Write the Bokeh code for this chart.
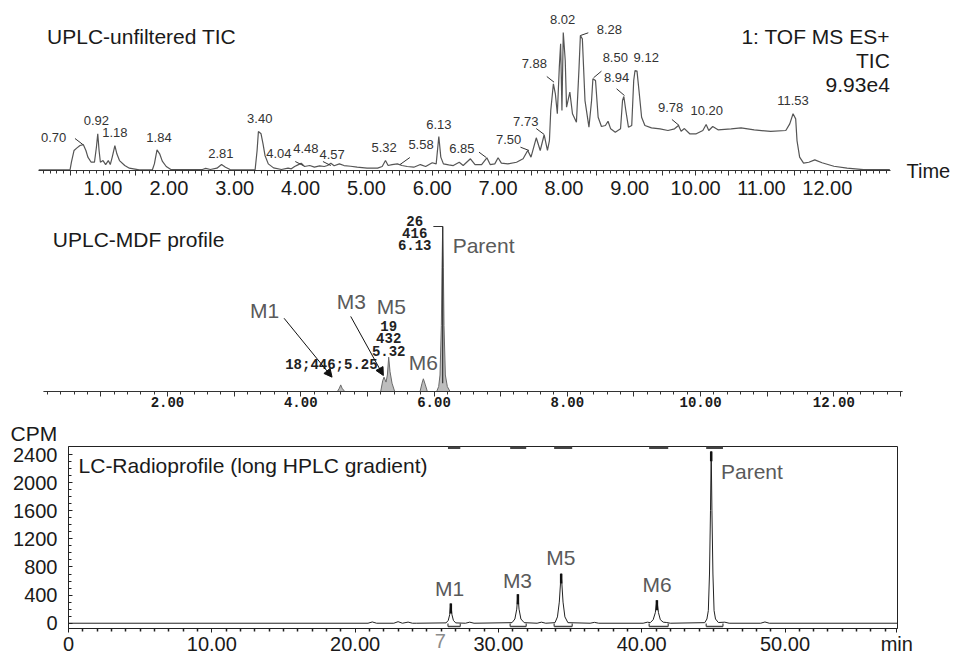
from bokeh.plotting import figure
from bokeh.layouts import column, row
from bokeh.models import (Range1d, FixedTicker, Label, LabelSet, ColumnDataSource,
                          Arrow, NormalHead, CustomJSTickFormatter, LinearAxis, Title)
from bokeh.core.properties import value
from bokeh.embed import file_html
from bokeh.resources import INLINE

SANS = "Liberation Sans"
MONO = "Liberation Mono"
DARK = "#1a1a1a"
GREY = "#5a5a5a"

# ---------------- data: panel 1 (UPLC unfiltered TIC) ----------------
tic_time = [0.02, 0.50, 0.52, 0.56, 0.60, 0.65, 0.70, 0.74, 0.77, 0.82, 0.87, 0.90, 0.92, 0.94,
            0.96, 1.00, 1.04, 1.08, 1.11, 1.14, 1.18, 1.21, 1.25, 1.33, 1.40, 1.55, 1.75, 1.78,
            1.82, 1.86, 1.90, 1.96, 2.03, 2.51, 2.56, 2.63, 2.73, 2.80, 2.86, 2.93, 3.31, 3.34,
            3.36, 3.40, 3.43, 3.46, 3.51, 3.59, 3.71, 3.81, 3.86, 3.91, 3.96, 4.01, 4.06, 4.14,
            4.21, 4.29, 4.36, 4.41, 4.46, 4.51, 4.59, 4.66, 4.76, 4.86, 5.01, 5.17, 5.24, 5.29,
            5.33, 5.39, 5.47, 5.54, 5.62, 5.72, 5.82, 5.90, 6.00, 6.06, 6.10, 6.13, 6.17, 6.25,
            6.32, 6.41, 6.47, 6.58, 6.65, 6.75, 6.83, 6.88, 6.95, 7.00, 7.05, 7.15, 7.28, 7.38,
            7.45, 7.50, 7.58, 7.64, 7.70, 7.75, 7.78, 7.80, 7.84, 7.87, 7.90, 7.93, 7.95, 7.97,
            7.99, 8.02, 8.04, 8.09, 8.13, 8.19, 8.23, 8.25, 8.28, 8.32, 8.38, 8.42, 8.44, 8.48,
            8.52, 8.57, 8.63, 8.67, 8.71, 8.78, 8.86, 8.89, 8.91, 8.94, 8.98, 9.03, 9.06, 9.08,
            9.11, 9.14, 9.18, 9.23, 9.33, 9.46, 9.58, 9.68, 9.74, 9.78, 9.83, 9.91, 10.01, 10.11,
            10.16, 10.20, 10.26, 10.34, 10.54, 10.69, 10.89, 11.14, 11.37, 11.43, 11.48, 11.52,
            11.54, 11.58, 11.64, 11.72, 11.81, 11.92, 12.10, 12.30, 12.55, 12.95]
tic_intensity = [0.5, 0.7, 6.0, 14.5, 16.2, 18.1, 18.8, 14.5, 9.7, 6.0, 6.0, 17.0, 26.6, 14.5,
                 6.0, 7.2, 4.3, 7.2, 4.3, 9.7, 18.1, 12.1, 7.2, 3.6, 1.7, 0.5, 0.5, 4.8,
                 15.0, 12.1, 6.8, 2.9, 0.7, 0.7, 1.5, 0.7, 1.7, 4.3, 2.4, 0.7, 0.5, 14.5,
                 28.3, 26.6, 19.3, 10.9, 4.8, 1.9, 0.7, 1.7, 1.2, 2.9, 4.1, 5.3, 2.9, 3.6,
                 2.4, 3.4, 2.9, 3.6, 5.3, 3.4, 4.8, 3.6, 3.1, 2.4, 1.7, 1.7, 2.9, 7.2,
                 3.6, 4.3, 4.8, 3.6, 2.9, 2.4, 4.3, 2.9, 5.6, 4.8, 24.6, 9.7, 4.8, 4.1,
                 3.6, 6.0, 3.6, 8.5, 4.3, 4.3, 9.2, 4.3, 4.8, 9.2, 5.3, 4.8, 6.0, 8.5,
                 14.5, 9.7, 23.7, 14.5, 25.9, 14.5, 21.7, 43.5, 62.8, 55.6, 41.1, 74.9, 91.8, 43.5,
                 100.0, 79.7, 45.9, 56.8, 41.1, 35.0, 74.9, 97.8, 95.4, 50.7, 31.4, 50.7, 66.4, 65.2,
                 38.6, 31.9, 32.6, 35.7, 30.2, 27.8, 30.2, 50.7, 53.6, 43.5, 31.4, 32.6, 65.2, 72.5,
                 72.0, 58.0, 38.6, 32.6, 30.9, 30.2, 29.0, 30.2, 32.6, 28.5, 30.4, 26.6, 26.6, 29.0,
                 33.3, 29.0, 31.9, 29.5, 30.2, 30.9, 29.5, 28.3, 29.0, 33.8, 41.1, 37.4,
                 21.7, 9.7, 5.3, 6.0, 7.7, 5.6, 3.1, 1.7, 0.7, 0.7]
tic_peak_rt = ["0.70", "0.92", "1.18", "1.84", "2.81", "3.40", "4.04", "4.48", "4.57", "5.32",
               "5.58", "6.13", "6.85", "7.50", "7.73", "7.88", "8.02", "8.28", "8.50", "9.12",
               "8.94", "9.78", "10.20", "11.53"]
tic_info = ["1: TOF MS ES+", "TIC", "9.93e4"]

# ---------------- data: panel 2 (UPLC-MDF profile) ----------------
mdf_time = [0.14, 4.55, 4.58, 4.60, 4.62, 4.66, 5.20, 5.23, 5.25, 5.28, 5.30, 5.32, 5.34, 5.37,
            5.41, 5.79, 5.82, 5.84, 5.87, 5.90, 6.04, 6.07, 6.09, 6.11, 6.12, 6.13, 6.14, 6.15,
            6.17, 6.20, 6.24, 13.03]
mdf_intensity = [0, 0, 2.0, 4.0, 2.0, 0, 0, 6.5, 8.7, 5.7, 10.0, 20.8, 12.0, 5.0,
                 0, 0, 5.0, 7.7, 4.0, 0, 0, 3.0, 10.0, 40.0, 75.0, 100.0, 75.0, 40.0,
                 10.0, 3.0, 0, 0]
mdf_parent_info = ["26", "416", "6.13"]
mdf_m5_info = ["19", "432", "5.32"]
mdf_m3_info = "18;446;5.25"
mdf_names = ["M1", "M3", "M5", "M6", "Parent"]

# ---------------- data: panel 3 (LC radioprofile) ----------------
radio_time = [0.0, 20.9, 21.2, 21.5, 22.7, 23.0, 23.3, 23.7, 24.0, 24.3,
              26.35, 26.50, 26.60, 26.68, 26.76, 26.86, 27.02, 27.7, 28.0, 28.3,
              30.95, 31.15, 31.28, 31.36, 31.44, 31.57, 31.80, 32.7, 33.0, 33.3,
              33.95, 34.12, 34.25, 34.33, 34.38, 34.43, 34.51, 34.64, 34.85, 36.4, 36.7, 37.0,
              40.1, 40.40, 40.60, 40.80, 40.95, 41.06, 41.17, 41.30, 41.50, 41.75, 42.0,
              44.40, 44.55, 44.65, 44.73, 44.80, 44.85, 44.90, 44.97, 45.05, 45.15, 45.35,
              45.8, 46.1, 48.3, 48.6, 48.9, 57.85]
radio_cpm = [0, 0, 18, 0, 0, 22, 0, 16, 0, 0,
             5, 40, 120, 279, 120, 40, 5, 0, 15, 0,
             8, 60, 200, 411, 200, 60, 8, 0, 15, 0,
             8, 90, 300, 560, 705, 560, 300, 90, 8, 0, 12, 0,
             0, 15, 8, 50, 150, 326, 150, 50, 15, 10, 0,
             8, 60, 180, 700, 1600, 2443, 1600, 700, 180, 60, 10,
             15, 0, 0, 18, 0, 0]
radio_peak_names = ["M1", "M3", "M5", "M6", "Parent"]
radio_peak_time = [26.68, 31.36, 34.38, 41.06, 44.85]
radio_peak_cpm = [279, 411, 705, 326, 2443]
radio_region_start = [26.48, 30.82, 33.89, 40.52, 44.50]
radio_region_end = [27.34, 31.94, 35.15, 41.85, 45.67]
cpm_ticks = [0, 400, 800, 1200, 1600, 2000, 2400]
min_ticks = [0, 10, 20, 30, 40, 50]
min_tick_labels = ["0", "10.00", "20.00", "30.00", "40.00", "50.00"]


def make_fig(height, xr, yr, left, right, top, bottom, y_axis=False):
    p = figure(width=953, height=height, x_range=Range1d(*xr), y_range=Range1d(*yr),
               output_backend="svg", toolbar_location=None, title=None,
               y_axis_type="linear" if y_axis else None,
               min_border_left=left, min_border_right=right,
               min_border_top=top, min_border_bottom=bottom)
    p.grid.visible = False
    p.outline_line_color = None
    p.background_fill_color = "white"
    p.border_fill_color = "white"
    return p


def txt(p, x, y, s, size="21px", align="left", baseline="middle", color=DARK,
        font=SANS, style="normal"):
    p.add_layout(Label(x=x, y=y, text=s, text_font=font, text_font_size=size,
                       text_align=align, text_baseline=baseline, text_color=color,
                       text_font_style=style))


def style_axis(ax, color, font, size, mt_out, mn_out, standoff, bold=False):
    ax.axis_line_color = color
    ax.major_tick_line_color = color
    ax.minor_tick_line_color = color
    ax.major_tick_out = mt_out
    ax.major_tick_in = 0
    ax.minor_tick_out = mn_out
    ax.minor_tick_in = 0
    ax.major_label_standoff = standoff
    ax.major_label_text_font = font
    ax.major_label_text_font_size = size
    ax.major_label_text_color = DARK
    if bold:
        ax.major_label_text_font_style = "bold"


def map_formatter(ticks, labels):
    js_map = "{" + ",".join('"%.2f":"%s"' % (t, s) for t, s in zip(ticks, labels)) + "}"
    return CustomJSTickFormatter(
        code="const m = %s; const k = tick.toFixed(2); return (k in m) ? m[k] : '';" % js_map)


# ======================= panel 1 =======================
p1 = make_fig(208, (0.02, 12.96), (0, 114.5), 38, 56, 12, 38)
p1.line(tic_time, tic_intensity, line_color="#555555", line_width=1.2)
ax = p1.xaxis[0]
ax.ticker = FixedTicker(ticks=[0.5 * i for i in range(1, 26)],
                        minor_ticks=[round(0.1 * i, 1) for i in range(1, 130) if i % 5])
ax.formatter = CustomJSTickFormatter(
    code="return Math.abs(tick - Math.round(tick)) < 1e-6 ? tick.toFixed(2) : '';")
style_axis(ax, "#333333", SANS, "20px", 5, 3, 5)
# "Time" written as the single label of an otherwise empty right axis at y = 0
time_ax = LinearAxis(ticker=FixedTicker(ticks=[0]), formatter=map_formatter([0], ["Time"]),
                     axis_line_color=None, major_tick_line_color=None,
                     minor_tick_line_color=None, major_label_standoff=10,
                     major_label_text_font=SANS, major_label_text_font_size="20px",
                     major_label_text_color=DARK)
p1.add_layout(time_ax, "right")

tic_lab_x = [0.25, 0.90, 1.18, 1.85, 2.79, 3.38, 3.67, 4.08, 4.48, 5.27, 5.83, 6.10, 6.45,
             7.16, 7.42, 7.55, 7.98, 8.69, 8.78, 9.25, 8.80, 9.62, 10.17, 11.48]
tic_lab_y = [23.9, 36.2, 27.5, 23.9, 12.3, 37.7, 12.3, 15.9, 11.6, 16.7, 18.8, 33.3, 15.9,
             22.5, 35.5, 77.5, 109.4, 102.2, 81.9, 81.9, 67.4, 45.7, 43.5, 50.7]
p1.add_layout(LabelSet(x="x", y="y", text="text",
                       source=ColumnDataSource(dict(x=tic_lab_x, y=tic_lab_y, text=tic_peak_rt)),
                       text_font=value(SANS), text_font_size="13px", text_align="center",
                       text_baseline="middle", text_color="#333333"))
lead_x0 = [0.574, 3.92, 4.34, 5.66, 6.71, 7.34, 7.58, 7.74, 8.25, 8.45, 8.80, 9.64]
lead_y0 = [23.2, 6.5, 6.5, 9.4, 13.3, 16.9, 30.4, 68.1, 97.8, 67.2, 59.2, 37.0]
lead_x1 = [0.694, 4.04, 4.46, 5.51, 6.82, 7.47, 7.70, 7.85, 8.37, 8.57, 8.92, 9.75]
lead_y1 = [18.8, 3.6, 3.6, 4.3, 9.4, 14.5, 26.1, 64.0, 99.8, 72.0, 54.3, 32.6]
p1.segment(lead_x0, lead_y0, lead_x1, lead_y1, line_color="#333333", line_width=1)

txt(p1, 0.15, 97.1, "UPLC-unfiltered TIC")
for s, yy in zip(tic_info, [97.1, 79.7, 62.3]):
    txt(p1, 12.95, yy, s, align="right")

# ======================= panel 2 =======================
p2 = make_fig(204, (0.14, 13.03), (0, 108.5), 43, 51, 4, 21)
p2.patch(mdf_time, mdf_intensity, fill_color="#bdbdbd", line_color="#6a6a6a", line_width=1)
i_par = mdf_intensity.index(max(mdf_intensity))
t_par, h_par = mdf_time[i_par], mdf_intensity[i_par]
p2.line([t_par - 0.14, t_par, t_par], [h_par, h_par, 5], line_color="#333333", line_width=1.2)
ax = p2.xaxis[0]
ax.ticker = FixedTicker(ticks=list(range(1, 14)),
                        minor_ticks=[round(0.2 * i, 1) for i in range(1, 66) if i % 5])
ax.formatter = CustomJSTickFormatter(code="return (tick % 2 === 0) ? tick.toFixed(2) : '';")
style_axis(ax, "#333333", MONO, "14px", 5, 3, 0, bold=True)

txt(p2, 0.28, 92.1, "UPLC-MDF profile")
for s, yy in zip(mdf_parent_info, [103.6, 96.2, 88.9]):
    txt(p2, 5.71, yy, s, size="14px", align="center", font=MONO, style="bold", color="#222222")
for s, yy in zip(mdf_m5_info, [39.6, 32.3, 24.8]):
    txt(p2, 5.32, yy, s, size="14px", align="center", font=MONO, style="bold", color="#222222")
txt(p2, 4.46, 16.2, mdf_m3_info, size="14px", align="center", font=MONO, style="bold",
    color="#222222")
mdf_lab_pos = [(3.24, 49.1), (4.54, 54.5), (5.14, 51.5), (5.62, 17.6), (6.28, 88.5)]
for s, (xx, yy) in zip(mdf_names, mdf_lab_pos):
    txt(p2, xx, yy, s, color=GREY)
for (xs, ys, xe, ye) in [(3.75, 44.4, 4.47, 8.7), (4.75, 45.5, 5.24, 9.7)]:
    p2.add_layout(Arrow(end=NormalHead(size=8, fill_color="#111111", line_color="#111111"),
                        x_start=xs, y_start=ys, x_end=xe, y_end=ye,
                        line_color="#111111", line_width=1))

# ======================= panel 3 =======================
p3 = make_fig(246, (0, 57.85), (-75, 2514), 68, 56, 34, 30, y_axis=True)
p3.title = Title(text="CPM", align="left", offset=-58, standoff=3, text_font=SANS,
                 text_font_size="21px", text_font_style="normal", text_color=DARK)
p3.outline_line_color = "#222222"
p3.outline_line_width = 1
p3.line(radio_time, radio_cpm, line_color="#222222", line_width=1)
p3.segment(radio_peak_time, [c - 140 for c in radio_peak_cpm], radio_peak_time, radio_peak_cpm,
           line_color="#111111", line_width=2.5)
p3.segment(radio_region_start, [-45] * 5, radio_region_end, [-45] * 5,
           line_color="#444444", line_width=1.5)
p3.segment(radio_region_start, [-45] * 5, radio_region_start, [-5] * 5,
           line_color="#444444", line_width=1.2)
p3.segment(radio_region_end, [-45] * 5, radio_region_end, [-5] * 5,
           line_color="#444444", line_width=1.2)
p3.segment(radio_region_start, [2500] * 5, radio_region_end, [2500] * 5,
           line_color="#444444", line_width=3)

xa = p3.xaxis[0]
xa.ticker = FixedTicker(ticks=min_ticks + [57.8],
                        minor_ticks=[i for i in range(1, 58) if i % 10])
xa.formatter = map_formatter(min_ticks + [57.8], min_tick_labels + ["min"])
style_axis(xa, "#222222", SANS, "20px", 4, 3, 0)
xa.minor_tick_line_width = 1.5
# the stray grey "7" beside 30.00, carried by a second, line-less axis pulled up to the label row
seven_ax = LinearAxis(ticker=FixedTicker(ticks=[25.94]), formatter=map_formatter([25.94], ["7"]),
                      axis_line_color=None, major_tick_line_color=None,
                      minor_tick_line_color=None, major_label_standoff=-30,
                      major_label_text_font=SANS, major_label_text_font_size="20px",
                      major_label_text_color="#8c8c8c")
p3.add_layout(seven_ax, "below")

ya = p3.yaxis[0]
ya.ticker = FixedTicker(ticks=cpm_ticks, minor_ticks=[i * 100 for i in range(1, 25) if i % 4])
style_axis(ya, "#222222", SANS, "20px", 0, 0, 11)
ya.major_tick_in = 4
ya.minor_tick_in = 3

txt(p3, 0.70, 2250, "LC-Radioprofile (long HPLC gradient)")
radio_lab_pos = [(26.6, 492, "center"), (31.33, 610, "center"), (34.35, 940, "center"),
                 (41.08, 553, "center"), (45.53, 2155, "left")]
for s, (xx, yy, al) in zip(radio_peak_names, radio_lab_pos):
    txt(p3, xx, yy, s, align=al, color=GREY)

layout = column(row(p1), row(p2), row(p3), spacing=0)
open("out.html", "w").write(file_html(layout, INLINE))
